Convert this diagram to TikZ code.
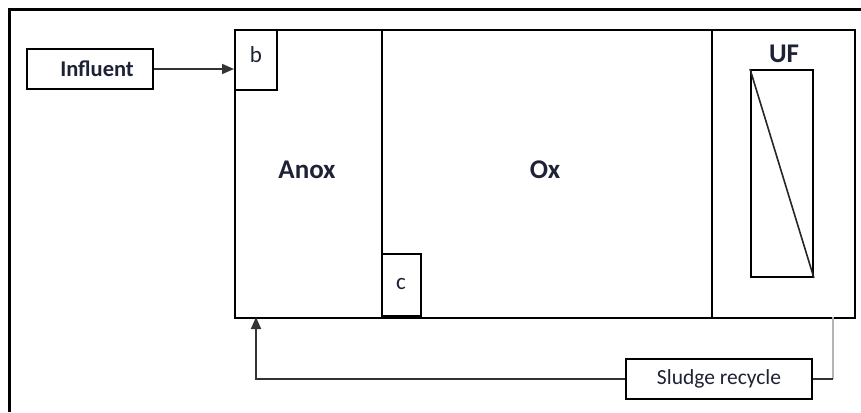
\documentclass[tikz,border=0pt]{standalone}
\usepackage{fontspec}
\setmainfont{Carlito}
\usetikzlibrary{arrows.meta}
\definecolor{ink}{HTML}{1E2235}
\definecolor{pipegray}{HTML}{B4B4B4}
\begin{document}
\begin{tikzpicture}[x=1pt,y=-1pt,
  wall/.style={draw=black, line width=1.9pt, inner sep=0pt},
  box/.style={draw=black, line width=1.9pt, inner sep=0pt, fill=white},
  lbl/.style={text=ink, inner sep=0pt},
  pipe/.style={draw=black!80, line width=1.7pt},
  tip/.style={-{Triangle[length=12pt,width=10pt]}}]
\useasboundingbox (0,0) rectangle (861,412);
% frame (open to the right and below)
\draw[line width=3pt] (9,412) -- (9,10) -- (861,10);
% tank compartments
\node[wall, anchor=north west, minimum width=147pt, minimum height=288pt] (anox) at (234,29) {};
\node[wall, anchor=north west, minimum width=330pt, minimum height=288pt] (ox) at (381,29) {};
\node[wall, anchor=north west, minimum width=143pt, minimum height=288pt] (uf) at (711,29) {};
\node[lbl, font=\fontsize{27}{30}\selectfont\bfseries] (anoxlbl) at (307,170) {Anox};
\node[lbl, font=\fontsize{27}{30}\selectfont\bfseries] (oxlbl) at (545,170) {Ox};
\node[lbl, font=\fontsize{27}{30}\selectfont\bfseries] (uflbl) at (784,54) {UF};
% small zones b and c
\node[box, anchor=north west, minimum width=42pt, minimum height=60pt] (b) at (234,29) {};
\node[lbl, font=\fontsize{23}{26}\selectfont] (blbl) at (256,55) {b};
\node[box, anchor=south west, minimum width=39pt, minimum height=62pt] (c) at (381,317) {};
\node[lbl, font=\fontsize{23}{26}\selectfont] (clbl) at (401,284) {c};
% membrane module
\node[box, anchor=north west, minimum width=62pt, minimum height=207pt] (filter) at (750,69) {};
\draw[line width=1.6pt, black!85] (filter.north west) -- (filter.south east);
% influent
\node[box, minimum width=126pt, minimum height=40pt, text=ink, font=\fontsize{22.5}{25}\selectfont\bfseries] (influent) at (90,69) {\hspace{14pt}Influent};
\draw[pipe, tip] (influent.east) -- (anox.west |- influent.east);
% sludge recycle
\node[box, minimum width=186pt, minimum height=40pt, text=ink, font=\fontsize{21.5}{24}\selectfont] (sludge) at (719,379) {Sludge recycle};
\coordinate (draw) at (833,317);
\coordinate (ret) at (256,317);
\draw[draw=pipegray, line width=2.6pt] (draw) -- (draw |- sludge.east);
\draw[pipe] (draw |- sludge.east) -- (sludge.east);
\draw[pipe, tip] (sludge.west) -| (ret);
\end{tikzpicture}
\end{document}
